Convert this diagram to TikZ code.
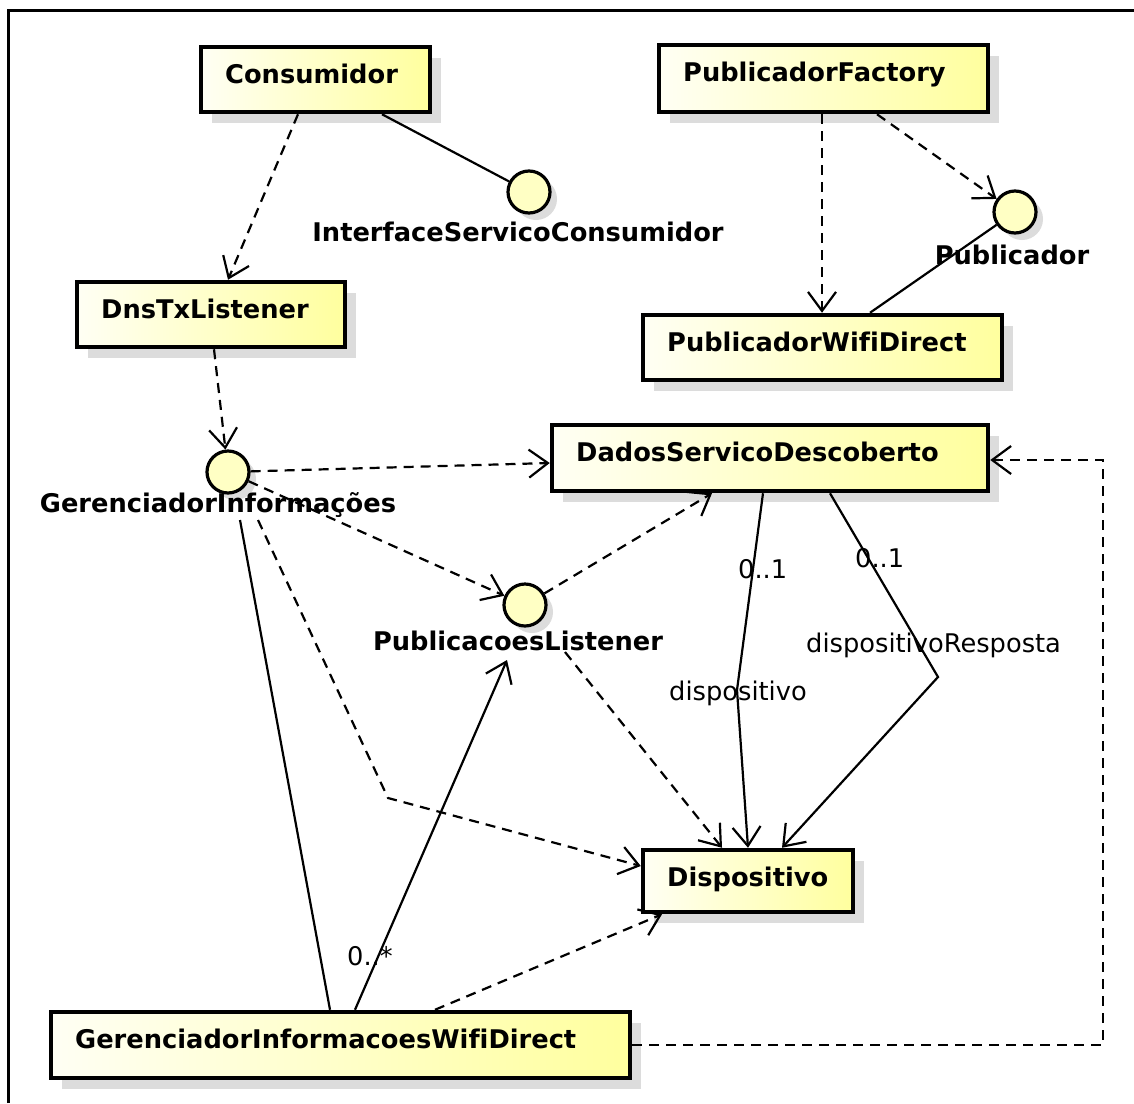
\documentclass[tikz,border=0pt]{standalone}
\usepackage{fontspec}
\setmainfont{DejaVu Sans}[Ligatures=NoCommon]
\usetikzlibrary{arrows.meta,calc}
\definecolor{boxleft}{RGB}{255,255,244}
\definecolor{boxright}{RGB}{255,255,158}
\definecolor{ifill}{RGB}{255,255,196}
\definecolor{shadowc}{RGB}{220,220,220}
\tikzset{
  cbox/.style={rectangle, draw=black, line width=4.5pt, left color=boxleft, right color=boxright, inner sep=0pt},
  ctext/.style={font=\bfseries\fontsize{25.7}{30}\selectfont, inner sep=0pt},
  alabel/.style={font=\fontsize{25.7}{30}\selectfont, inner sep=0pt, anchor=base west},
  iface/.style={circle, draw=black, line width=3.2pt, fill=ifill, minimum size=42pt, inner sep=0pt},
  barb/.style={-{Straight Barb[length=19pt,width=28pt,line width=2.2pt]}},
  dep/.style={line width=2.2pt, dash pattern=on 10pt off 7pt, barb},
  assoc/.style={line width=2.2pt},
  navassoc/.style={line width=2.2pt, barb},
}
% class box: name, x1, y1, x2, y2, title
\newcommand\umlclass[6]{%
  \fill[shadowc] (#2+11,#3+11) rectangle (#4+11,#5+11);
  \node[cbox, minimum width={#4-#2}, minimum height={#5-#3}] (#1) at ({(#2+#4)/2},{(#3+#5)/2}) {};
  \node[ctext, anchor=base west] (#1t) at (#2+24,#3+36) {#6};
}
% interface lollipop: name, cx, cy, title, label x, label baseline y
\newcommand\umliface[6]{%
  \fill[shadowc] (#2+7,#3+7) circle (21);
  \node[iface] (#1) at (#2,#3) {};
  \node[ctext, anchor=base] (#1t) at (#5,#6) {#4};
}
\begin{document}
\begin{tikzpicture}[x=1pt,y=-1pt]
\useasboundingbox (0,0) rectangle (1134,1103);
\fill[white] (0,0) rectangle (1134,1103);
\draw[line width=3pt] (8,1103) -- (8,10) -- (1134,10);

% classes
\umlclass{cons}{201}{47}{430}{112}{Consumidor}
\umlclass{pf}{659}{45}{988}{112}{PublicadorFactory}
\umlclass{dns}{77}{282}{345}{347}{DnsTxListener}
\umlclass{pwd}{643}{315}{1002}{380}{PublicadorWifiDirect}
\umlclass{dsd}{552}{425}{988}{491}{DadosServicoDescoberto}
\umlclass{disp}{643}{850}{853}{912}{Dispositivo}
\umlclass{giwd}{51}{1012}{630}{1078}{GerenciadorInformacoesWifiDirect}

% interfaces
\umliface{isc}{529}{192}{InterfaceServicoConsumidor}{518}{241}
\umliface{pub}{1015}{212}{Publicador}{1012}{264}
\umliface{gi}{228}{472}{GerenciadorInformações}{218}{512}
\umliface{pl}{525}{605}{PublicacoesListener}{518}{650}

% top part
\draw[dep] (298,0 |- cons.south) -- (228,0 |- dns.north);
\draw[assoc] (382,0 |- cons.south) -- (isc);
\draw[dep] (822,0 |- pf.south) -- (822,0 |- pwd.north);
\draw[dep] (877,0 |- pf.south) -- (pub);
\draw[assoc] (pub) -- (870,0 |- pwd.north);
\draw[dep] (214,0 |- dns.south) -- (gi);

% GerenciadorInformações
\draw[dep] (gi) -- (dsd.west |- 0,463);
\draw[dep] (gi) -- (pl);
\draw[dep] (258,520) -- (388,798) -- (disp.west |- 0,866);
\draw[assoc] (240,520) -- (330,0 |- giwd.north);

% GerenciadorInformacoesWifiDirect
\draw[navassoc] (355,0 |- giwd.north) -- (507,660);
\draw[dep] (435,0 |- giwd.north) -- (662,0 |- disp.south);
\draw[dep] (giwd.east |- 0,1045) -- (1103,1045) -- (1103,460) -- (dsd.east |- 0,460);
\node[alabel] (lmany) at (347,965) {0..*};

% PublicacoesListener
\draw[dep] (pl) -- (712,0 |- dsd.south);
\draw[dep] (565,652) -- (722,0 |- disp.north);

% DadosServicoDescoberto associations
\draw[navassoc] (763,0 |- dsd.south) -- (737,690) -- (748,0 |- disp.north);
\draw[navassoc] (830,0 |- dsd.south) -- (938,677) -- (782,0 |- disp.north);
\node[alabel] (l01a) at (738,578) {0..1};
\node[alabel] (l01b) at (855,567) {0..1};
\node[alabel] (ldisp) at (669,700) {dispositivo};
\node[alabel] (lresp) at (806,652) {dispositivoResposta};
\end{tikzpicture}
\end{document}
